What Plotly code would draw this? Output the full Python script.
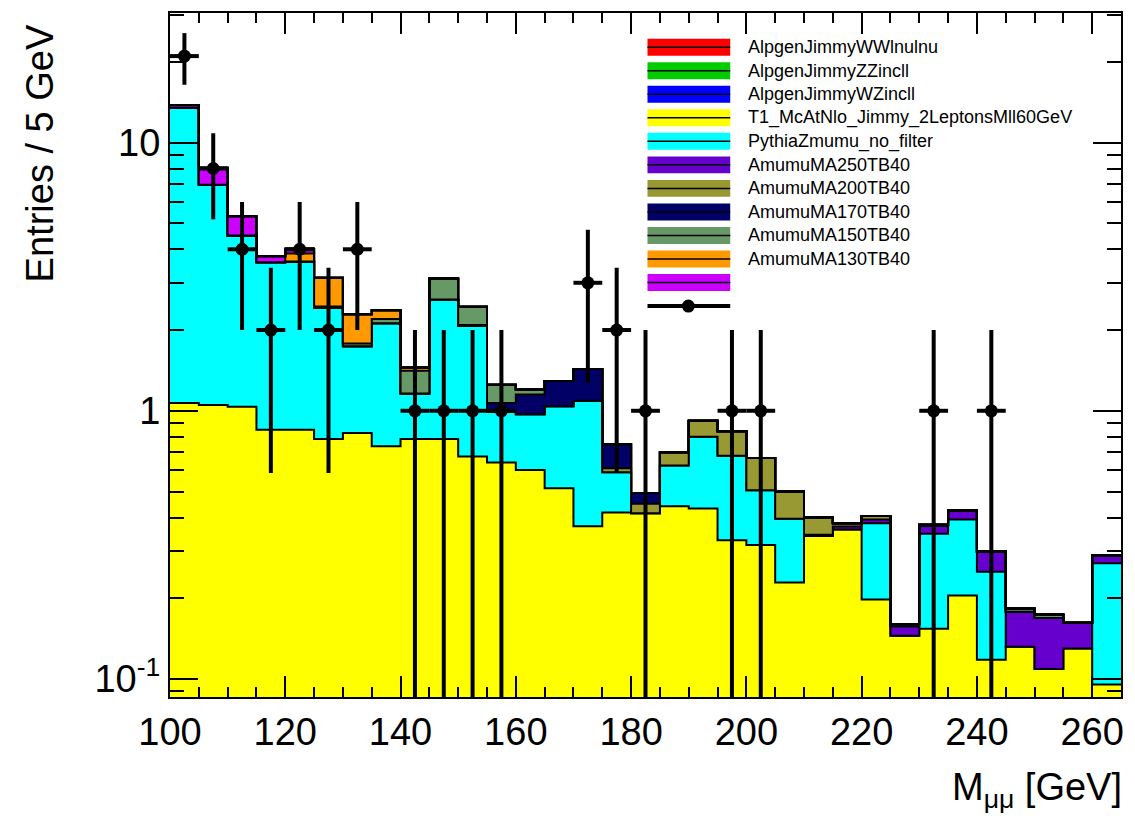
import plotly.graph_objects as go
import math

# ---------------- data (5 GeV bins, 100-265 GeV) ----------------
bin_edges = list(range(100, 266, 5))          # 34 edges
x_ticks = [100, 120, 140, 160, 180, 200, 220, 240, 260]
y_ticks = [0.1, 1, 10]
y_ticktext = ["10<sup>-1</sup>", "1", "10"]

ww = [0.0] * 33
zz = [0.0] * 33
wz = [0.0] * 33
t1_ttbar = [1.07, 1.05, 1.035, 0.85, 0.85, 0.785, 0.826, 0.737, 0.785, 0.785, 0.676,
            0.642, 0.602, 0.514, 0.371, 0.418, 0.415, 0.441, 0.432, 0.329, 0.316, 0.229,
            0.341, 0.361, 0.198, 0.145, 0.154, 0.205, 0.118, 0.132, 0.109, 0.130, 0.0955]
pythia_zmumu = [12.43, 5.91, 3.465, 2.73, 2.75, 1.635, 0.914, 1.383, 0.375, 1.815, 1.394,
                0.348, 0.368, 0.526, 0.719, 0.172, 0.0, 0.184, 0.368, 0.351, 0.189, 0.167,
                0.0, 0.0, 0.183, 0.0, 0.194, 0.188, 0.133, 0.0, 0.0, 0.0, 0.1745]
a250 = [0, 0, 0, 0, 0, 0, 0, 0, 0, 0, 0, 0, 0, 0, 0, 0, 0, 0, 0, 0, 0, 0,
        0.004, 0.009, 0.012, 0.012, 0.024, 0.032, 0.048, 0.046, 0.060, 0.032, 0.019]
a200 = [0, 0, 0, 0, 0, 0, 0, 0, 0, 0, 0, 0, 0, 0, 0,
        0.02, 0.035, 0.075, 0.118, 0.158, 0.162, 0.104, 0.055, 0.011, 0.012, 0.003, 0.004,
        0, 0, 0, 0, 0, 0]
a170 = [0, 0, 0, 0, 0, 0, 0, 0, 0, 0, 0.02, 0.08, 0.18, 0.25, 0.34, 0.14, 0.044,
        0, 0, 0, 0, 0, 0, 0, 0, 0, 0, 0, 0, 0, 0, 0, 0]
a150 = [0, 0, 0, 0, 0, 0.03, 0.04, 0.08, 0.25, 0.51, 0.35, 0.18, 0.05,
        0, 0, 0, 0, 0, 0, 0, 0, 0, 0, 0, 0, 0, 0, 0, 0, 0.005, 0.005, 0, 0]
a130 = [0, 0, 0, 0, 0.26, 0.68, 0.51, 0.17, 0.04,
        0, 0, 0, 0, 0, 0, 0, 0, 0, 0, 0, 0, 0, 0, 0, 0, 0, 0, 0, 0, 0, 0, 0, 0]
a110 = [0.3, 1.1, 0.81, 0.19, 0.16,
        0, 0, 0, 0, 0, 0, 0, 0, 0, 0, 0, 0, 0, 0, 0, 0, 0, 0, 0, 0, 0, 0, 0, 0, 0, 0, 0, 0]
data_counts = [21, 8, 4, 2, 4, 2, 4, 0, 1, 1, 1, 1, 0, 0, 3, 2, 1, 0, 0, 1, 1,
               0, 0, 0, 0, 0, 1, 0, 1, 0, 0, 0, 0]

legend_labels = ["AlpgenJimmyWWlnulnu", "AlpgenJimmyZZincll", "AlpgenJimmyWZincll",
                 "T1_McAtNlo_Jimmy_2LeptonsMll60GeV", "PythiaZmumu_no_filter",
                 "AmumuMA250TB40", "AmumuMA200TB40", "AmumuMA170TB40",
                 "AmumuMA150TB40", "AmumuMA130TB40", ""]
legend_colors = ["#ff0000", "#00cc00", "#0000ff", "#ffff00", "#00ffff",
                 "#6600cc", "#999933", "#000066", "#669966", "#ff9900", "#cc00ff"]

# stack order, bottom -> top
stack = [
    (t1_ttbar, "#ffff00"), (pythia_zmumu, "#00ffff"), (a250, "#6600cc"),
    (a200, "#999933"), (a170, "#000066"), (a150, "#669966"), (a130, "#ff9900"),
    (a110, "#cc00ff"), (wz, "#0000ff"), (zz, "#00cc00"), (ww, "#ff0000"),
]

fig = go.Figure()
cum = [0.0] * 33
for i, (vals, col) in enumerate(stack):
    cum = [c + v for c, v in zip(cum, vals)]
    fig.add_trace(go.Scatter(
        x=bin_edges, y=cum + [cum[-1]], mode="lines", line_shape="hv",
        line=dict(color="black", width=2),
        fill="tozeroy" if i == 0 else "tonexty", fillcolor=col,
        showlegend=False, hoverinfo="skip"))

# data points
centers = [e + 2.5 for e in bin_edges[:-1]]
dx = [c for c, n in zip(centers, data_counts) if n > 0]
dy = [n for n in data_counts if n > 0]
derr = [math.sqrt(n) for n in dy]
fig.add_trace(go.Scatter(
    x=dx, y=dy, mode="markers",
    marker=dict(color="black", size=13),
    error_y=dict(type="data", array=derr, arrayminus=derr, color="black", thickness=4, width=0),
    error_x=dict(type="constant", value=2.5, color="black", thickness=4, width=0),
    showlegend=False, hoverinfo="skip"))

# ---------------- layout ----------------
W, H = 1135, 818
L, R, T, B = 170, 11, 11, 121
pw, ph = W - L - R, H - T - B


def px_x(p):
    return (p - L) / pw


def px_y(p):
    return (H - B - p) / ph


font_family = "Liberation Sans, Arial, sans-serif"
shapes = []
annotations = []
row0, step, bh = 45.3, 23.6, 17
bx0, bx1 = 649, 732
for k, (lab, col) in enumerate(zip(legend_labels, legend_colors)):
    yc = row0 + k * step
    shapes.append(dict(type="rect", xref="paper", yref="paper",
                       x0=px_x(bx0), x1=px_x(bx1), y0=px_y(yc + bh / 2), y1=px_y(yc - bh / 2),
                       fillcolor=col, line=dict(width=0), layer="above"))
    shapes.append(dict(type="line", xref="paper", yref="paper",
                       x0=px_x(bx0), x1=px_x(bx1), y0=px_y(yc), y1=px_y(yc),
                       line=dict(color="black", width=1.5), layer="above"))
    if lab:
        annotations.append(dict(text=lab, xref="paper", yref="paper", x=px_x(748), y=px_y(yc),
                                xanchor="left", yanchor="middle", showarrow=False,
                                font=dict(family=font_family, size=18, color="black")))
yc = row0 + 11 * step
shapes.append(dict(type="line", xref="paper", yref="paper",
                   x0=px_x(bx0), x1=px_x(bx1), y0=px_y(yc), y1=px_y(yc),
                   line=dict(color="black", width=4), layer="above"))
shapes.append(dict(type="circle", xref="paper", yref="paper",
                   x0=px_x(690 - 6.5), x1=px_x(690 + 6.5), y0=px_y(yc + 6.5), y1=px_y(yc - 6.5),
                   fillcolor="black", line=dict(width=0), layer="above"))

annotations.append(dict(text="Entries / 5 GeV", xref="paper", yref="paper",
                        x=px_x(40), y=px_y(20), xanchor="center", yanchor="top",
                        textangle=-90, showarrow=False,
                        font=dict(family=font_family, size=38, color="black")))
annotations.append(dict(text="M<sub>μμ</sub> [GeV]", xref="paper", yref="paper",
                        x=px_x(1127), y=px_y(790), xanchor="right", yanchor="middle",
                        showarrow=False,
                        font=dict(family=font_family, size=38, color="black")))

minor_y = [0.09] + [k * 0.1 for k in range(2, 10)] + list(range(2, 10)) + [20, 30]

fig.update_layout(
    width=W, height=H, margin=dict(l=L, r=R, t=T, b=B, pad=0),
    paper_bgcolor="white", plot_bgcolor="white",
    font=dict(family=font_family, size=38, color="black"),
    shapes=shapes, annotations=annotations, showlegend=False,
    xaxis=dict(range=[100, 265], tickvals=x_ticks, ticks="inside", ticklen=21, tickwidth=2,
               tickcolor="black", showline=True, linecolor="black", linewidth=2, mirror="ticks",
               showgrid=False, zeroline=False,
               tickfont=dict(family=font_family, size=38, color="black"),
               minor=dict(dtick=5, tick0=100, ticks="inside", ticklen=10, tickwidth=2,
                          tickcolor="black", showgrid=False)),
    yaxis=dict(type="log", range=[math.log10(0.0857), math.log10(30.4)],
               tickvals=y_ticks, ticktext=y_ticktext, ticks="inside", ticklen=28, tickwidth=2,
               tickcolor="black", showline=True, linecolor="black", linewidth=2, mirror="ticks",
               showgrid=False, zeroline=False,
               tickfont=dict(family=font_family, size=38, color="black"),
               minor=dict(tickvals=minor_y, ticks="inside", ticklen=14, tickwidth=2,
                          tickcolor="black", showgrid=False)),
)

fig.write_html("out.html")
